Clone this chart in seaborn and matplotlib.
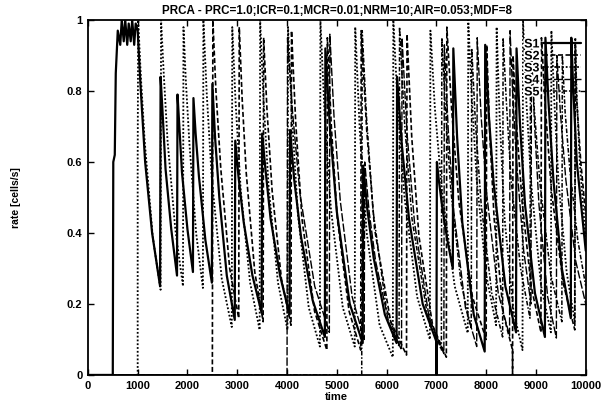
import matplotlib
matplotlib.use("Agg")
import matplotlib.pyplot as plt
import matplotlib.patheffects as pe
import seaborn as sns

# values (time, rate); one row per decay cycle
s1_t = [0, 500, 510, 540, 560, 600, 650, 680, 720, 750, 790, 820, 860, 890, 930, 960, 1000,
        1055, 1150, 1290, 1450,
        1460, 1500, 1560, 1675, 1790,
        1800, 1837, 1890, 2000, 2110,
        2120, 2164, 2230, 2360, 2490,
        2500, 2554, 2640, 2790, 2950,
        2960, 3024, 3130, 3305, 3490,
        3500, 3566, 3670, 3860, 4050,
        4060, 4144, 4280, 4515, 4760,
        4770, 4860, 5000, 5260, 5520,
        5530, 5610, 5740, 5965, 6200,
        6210, 6305, 6450, 6725, 7000,
        7000, 7010, 7048, 7120, 7220, 7330,
        7340, 7416, 7520, 7750, 7970,
        7980, 8054, 8150, 8385, 8600,
        8610, 8678, 8780, 8980, 9180,
        9190, 9251, 9350, 9520, 9700,
        9710, 9745, 9820, 10000]
s1_v = [0, 0, 0.6, 0.62, 0.85, 0.97, 0.93, 1.0, 0.94, 1.0, 0.93, 0.99, 0.94, 1.0, 0.93, 0.99, 0.97,
        0.82, 0.6, 0.40, 0.25,
        0.84, 0.74, 0.58, 0.41, 0.28,
        0.79, 0.70, 0.57, 0.41, 0.29,
        0.78, 0.68, 0.56, 0.38, 0.26,
        0.82, 0.67, 0.5, 0.28, 0.155,
        0.66, 0.56, 0.43, 0.28, 0.175,
        0.68, 0.58, 0.44, 0.28, 0.17,
        0.69, 0.55, 0.39, 0.21, 0.107,
        0.92, 0.70, 0.46, 0.20, 0.09,
        0.59, 0.47, 0.33, 0.17, 0.09,
        0.84, 0.65, 0.44, 0.20, 0.094,
        0.0, 0.6, 0.55, 0.47, 0.38, 0.3,
        0.92, 0.67, 0.43, 0.17, 0.066,
        0.93, 0.73, 0.54, 0.25, 0.12,
        0.92, 0.71, 0.48, 0.23, 0.107,
        0.95, 0.77, 0.55, 0.30, 0.16,
        0.95, 0.82, 0.6, 0.35]

s2_t = [0, 2500,
        2510, 2572, 2670, 2848, 3030,
        3040, 3098, 3180, 3352, 3520,
        3530, 3596, 3700, 3888, 4080,
        4090, 4175, 4300, 4552, 4800,
        4810, 4890, 5010, 5246, 5480,
        5490, 5600, 5760, 6082, 6400,
        6410, 6505, 6650, 6924, 7200,
        7210, 7305, 7450, 7724, 8000,
        8010, 8072, 8160, 8348, 8530,
        8530, 8540, 8607, 8720, 8904, 9100,
        9110, 9190, 9310, 9545, 9780,
        9790, 9815, 9900, 10000]
s2_v = [0, 0,
        1.0, 0.80, 0.58, 0.30, 0.16,
        0.98, 0.78, 0.57, 0.29, 0.15,
        0.95, 0.75, 0.52, 0.27, 0.14,
        0.97, 0.71, 0.44, 0.18, 0.07,
        0.95, 0.70, 0.44, 0.18, 0.07,
        0.97, 0.69, 0.41, 0.15, 0.056,
        0.96, 0.67, 0.39, 0.14, 0.05,
        0.98, 0.75, 0.49, 0.22, 0.1,
        0.93, 0.68, 0.44, 0.17, 0.07,
        0.0, 0.9, 0.71, 0.49, 0.25, 0.12,
        0.95, 0.75, 0.52, 0.26, 0.127,
        0.93, 0.78, 0.6, 0.45]

s3_t = [0, 1000, 1000,
        1010, 1064, 1140, 1302, 1460,
        1470, 1523, 1600, 1756, 1910,
        1920, 1967, 2040, 2174, 2310,
        2320, 2388, 2490, 2690, 2890,
        2900, 2966, 3070, 3258, 3450,
        3460, 3526, 3630, 3818, 4010,
        4020, 4097, 4220, 4436, 4660,
        4670, 4753, 4880, 5120, 5360,
        5370, 5460, 5600, 5860, 6125,
        6135, 6223, 6360, 6613, 6870,
        6880, 6970, 7110, 7368, 7630,
        7640, 7707, 7810, 8004, 8200,
        8210, 8272, 8370, 8548, 8730,
        8740, 8807, 8910, 9104, 9300,
        9310, 9366, 9450, 9616, 9780,
        9790, 9815, 9880, 10000]
s3_v = [0, 0, 0.6,
        1.0, 0.84, 0.66, 0.39, 0.24,
        1.0, 0.85, 0.66, 0.41, 0.25,
        0.98, 0.83, 0.65, 0.40, 0.245,
        1.0, 0.79, 0.55, 0.27, 0.135,
        0.98, 0.77, 0.52, 0.26, 0.127,
        1.0, 0.78, 0.53, 0.26, 0.127,
        0.98, 0.73, 0.45, 0.19, 0.08,
        1.0, 0.74, 0.47, 0.19, 0.08,
        0.98, 0.69, 0.40, 0.14, 0.05,
        1.0, 0.76, 0.5, 0.22, 0.1,
        0.97, 0.75, 0.52, 0.25, 0.118,
        1.0, 0.79, 0.55, 0.28, 0.14,
        0.98, 0.72, 0.44, 0.18, 0.07,
        1.0, 0.77, 0.53, 0.25, 0.12,
        0.97, 0.78, 0.55, 0.29, 0.15,
        0.95, 0.8, 0.6, 0.38]

s4_t = [0, 4000,
        4010, 4111, 4260, 4556, 4850,
        4860, 4943, 5070, 5308, 5550,
        5560, 5649, 5780, 6041, 6300,
        6310, 6411, 6560, 6856, 7150,
        7160, 7238, 7350, 7583, 7810,
        7820, 7898, 8010, 8243, 8470,
        8480, 8530, 8610, 8753, 8900,
        8910, 8970, 9060, 9235, 9410,
        9420, 9490, 9600, 9800, 10000]
s4_v = [0, 0,
        0.95, 0.74, 0.51, 0.25, 0.12,
        0.96, 0.73, 0.49, 0.22, 0.1,
        0.6, 0.46, 0.32, 0.15, 0.07,
        0.95, 0.68, 0.43, 0.16, 0.06,
        0.93, 0.69, 0.46, 0.19, 0.08,
        0.95, 0.73, 0.51, 0.23, 0.11,
        0.97, 0.80, 0.6, 0.35, 0.2,
        0.92, 0.71, 0.48, 0.22, 0.104,
        0.9, 0.74, 0.55, 0.32, 0.2]

s5_t = [0, 5500,
        5510, 5599, 5730, 5991, 6250,
        6260, 6361, 6510, 6806, 7100,
        7110, 7181, 7290, 7494, 7700,
        7710, 7784, 7900, 8113, 8330,
        8340, 8405, 8500, 8691, 8880,
        8890, 8966, 9080, 9300, 9520,
        9530, 9586, 9680, 9840, 10000]
s5_v = [0, 0,
        0.97, 0.72, 0.46, 0.19, 0.08,
        0.98, 0.71, 0.44, 0.18, 0.07,
        0.95, 0.75, 0.52, 0.26, 0.13,
        0.92, 0.71, 0.48, 0.23, 0.107,
        0.95, 0.77, 0.55, 0.30, 0.16,
        0.93, 0.75, 0.54, 0.28, 0.15,
        0.9, 0.74, 0.58, 0.38, 0.25]

names = ["S1", "S2", "S3", "S4", "S5"]
x_ticks = [0, 1000, 2000, 3000, 4000, 5000, 6000, 7000, 8000, 9000, 10000]
y_ticks = [0, 0.2, 0.4, 0.6, 0.8, 1]
y_tick_labels = ["0", "0.2", "0.4", "0.6", "0.8", "1"]

sns.set_theme(style="ticks")
plt.rcParams['font.family'] = ['Liberation Sans', 'DejaVu Sans']
plt.rcParams['font.weight'] = 'bold'

fig = plt.figure(figsize=(6.02, 4.08), dpi=100)
ax = fig.add_axes([0.146, 0.081, 0.827, 0.870])

series = [(s1_t, s1_v), (s2_t, s2_v), (s3_t, s3_v), (s4_t, s4_v), (s5_t, s5_v)]
styles = ["-", (0, (3, 1.5)), (0, (1, 1.1)), (0, (6, 1.5)), (0, (3, 1.2, 1, 1.2))]
widths = [1.6, 1.2, 1.3, 1.0, 1.1]
for (t, v), name, ls, lw in zip(series, names, styles, widths):
    sns.lineplot(x=t, y=v, ax=ax, color="black", linestyle=ls, linewidth=lw,
                 estimator=None, sort=False, label=name)

ax.set_xlim(0, 10000)
ax.set_ylim(0, 1)
ax.set_xticks(x_ticks)
ax.set_xticklabels([str(x) for x in x_ticks])
ax.set_yticks(y_ticks)
ax.set_yticklabels(y_tick_labels)
ax.tick_params(direction="in", length=4, width=1, top=True, right=True,
               labelsize=8, pad=4, colors="black")
for sp in ax.spines.values():
    sp.set_linewidth(1.3)
    sp.set_color("black")

ax.set_title("PRCA - PRC=1.0;ICR=0.1;MCR=0.01;NRM=10;AIR=0.053;MDF=8",
             fontsize=8.4, fontweight="bold", pad=4, color="black")
ax.set_xlabel("time", fontsize=8, fontweight="bold", labelpad=1, color="black")
ax.set_ylabel("rate [cells/s]", fontsize=7.5, fontweight="bold", color="black")
ax.yaxis.set_label_coords(-0.135, 0.5)

leg = ax.legend(loc="upper right", bbox_to_anchor=(0.995, 0.955), frameon=False,
                markerfirst=False, fontsize=9, handlelength=3.0, handletextpad=0.3,
                labelspacing=0.0, borderaxespad=0, borderpad=0.2)
for txt in leg.get_texts():
    txt.set_color("black")
    txt.set_fontweight("bold")
    txt.set_path_effects([pe.withStroke(linewidth=2.5, foreground="white")])

fig.savefig("out.png", dpi=100)
